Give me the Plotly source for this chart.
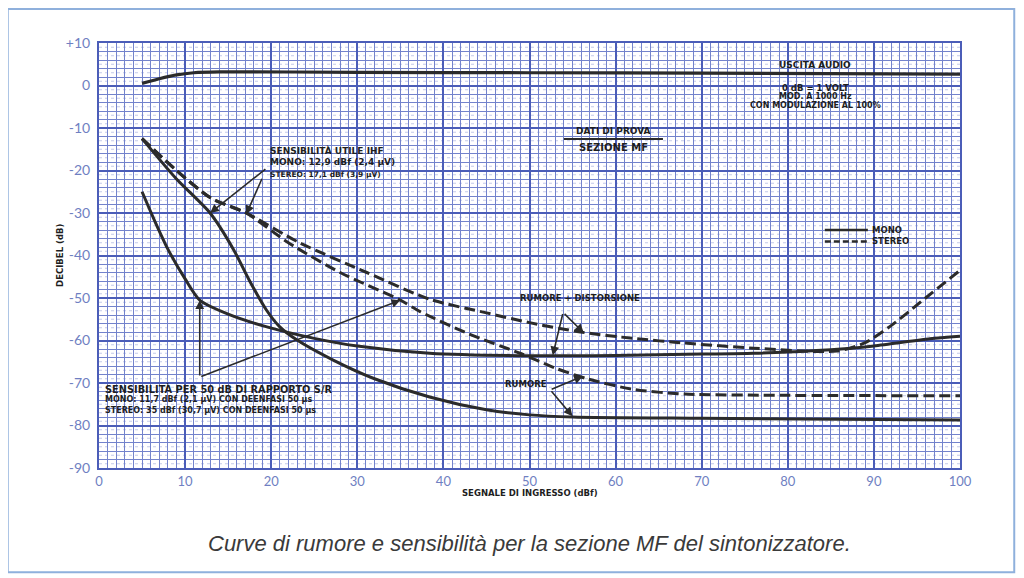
import plotly.graph_objects as go

# ---------------- data ----------------
out_x = [5, 7, 9, 11, 14, 30, 50, 70, 100]
out_y = [0.5, 1.6, 2.5, 3.0, 3.2, 3.1, 3.0, 2.9, 2.7]

mono_a_x = [5, 9, 12.9, 15.6, 17.5, 19.5, 21, 23, 27.2, 32, 38.4, 45, 50, 55, 70, 100]
mono_a_y = [-12.5, -22, -30, -38.5, -46, -53, -56.8, -59.9, -64.6, -69, -73.3, -76.3, -77.5, -78, -78.3, -78.7]

mono_b_x = [5, 6.5, 8, 10, 11.7, 15, 19.5, 25, 30, 38.4, 50, 60, 70, 76, 85, 90, 96.5, 100]
mono_b_y = [-25, -32, -38.5, -45.5, -50.5, -53.8, -56.8, -59.5, -61.3, -63, -63.6, -63.5, -63.2, -63, -62.2, -61.3, -59.6, -59]

stereo_a_x = [5, 9, 13, 17.1, 23.3, 31.1, 38.4, 45, 50, 55.9, 62, 68, 76, 85.7, 89, 92, 96, 100]
stereo_a_y = [-12.5, -20, -26.5, -30, -37, -44, -50.3, -53.5, -55.8, -58, -59.5, -60.6, -61.8, -62.5, -60.5, -56.5, -50, -43.5]

stereo_b_x = [5, 9, 13, 17.1, 22, 28, 35, 37.3, 43, 48.9, 53, 56.7, 62, 68, 80, 100]
stereo_b_y = [-12.5, -20, -26.5, -30, -37, -44, -50.5, -53.2, -58.5, -63, -66.5, -69, -71.5, -72.6, -72.9, -73]

x_ticks = [0, 10, 20, 30, 40, 50, 60, 70, 80, 90, 100]
y_ticks = [10, 0, -10, -20, -30, -40, -50, -60, -70, -80, -90]
y_tick_text = ["+10", "0", "-10", "-20", "-30", "-40", "-50", "-60", "-70", "-80", "-90"]

legend_labels = ["MONO", "STEREO"]

caption = "Curve di rumore e sensibilità per la sezione MF del sintonizzatore."

# ---------------- styling ----------------
INK = "#2b2b2b"
GRID_MAJ = "#4b5db8"
GRID_MIN = "#7383cc"
TICK_COL = "#6f7fc2"
DASH = "11px,5px"
LBL_FAMILY = "DejaVu Sans, Liberation Sans, sans-serif"
LBL_FONT = dict(family=LBL_FAMILY, size=8.5, color="#1e1e1e")

fig = go.Figure()

line_kw = dict(shape="spline", smoothing=0.7)

fig.add_trace(go.Scatter(x=out_x, y=out_y, mode="lines", showlegend=False,
                         line=dict(color=INK, width=3.2, **line_kw)))
fig.add_trace(go.Scatter(x=mono_a_x, y=mono_a_y, mode="lines", showlegend=False,
                         line=dict(color=INK, width=3, **line_kw)))
fig.add_trace(go.Scatter(x=mono_b_x, y=mono_b_y, mode="lines", showlegend=False,
                         line=dict(color=INK, width=3, **line_kw)))
fig.add_trace(go.Scatter(x=stereo_a_x, y=stereo_a_y, mode="lines", showlegend=False,
                         line=dict(color=INK, width=3, dash=DASH, **line_kw)))
fig.add_trace(go.Scatter(x=stereo_b_x, y=stereo_b_y, mode="lines", showlegend=False,
                         line=dict(color=INK, width=3, dash=DASH, **line_kw)))

shapes = []
# dotted 1 dB lines between the solid 2 dB lines
for v in range(-89, 10, 2):
    shapes.append(dict(type="line", xref="paper", x0=0, x1=1, yref="y", y0=v, y1=v,
                       line=dict(color="#9aa6da", width=0.6, dash="dot"), layer="below"))
# rule in the "SEZIONE MF" label
shapes.append(dict(type="line", xref="x", yref="y", x0=54, x1=65.5, y0=-12.6, y1=-12.6,
                   line=dict(color=INK, width=2)))
# legend key samples
shapes.append(dict(type="line", xref="x", yref="y", x0=84.3, x1=89.3, y0=-34.0, y1=-34.0,
                   line=dict(color=INK, width=2.5)))
shapes.append(dict(type="line", xref="x", yref="y", x0=84.3, x1=89.3, y0=-36.7, y1=-36.7,
                   line=dict(color=INK, width=2.5, dash="6px,3px")))
# outer page frame
shapes.append(dict(type="rect", xref="paper", yref="paper", x0=-0.106, x1=1.063, y0=-0.245, y1=1.08,
                   line=dict(color="#8fb0dc", width=2), layer="below"))

annotations = []


def label(x, y, text, xanchor="left", size=8.5):
    f = dict(LBL_FONT)
    f["size"] = size
    annotations.append(dict(x=x, y=y, xref="x", yref="y", text="<b>" + text + "</b>", showarrow=False,
                            xanchor=xanchor, yanchor="middle", align=xanchor if xanchor != "center" else "center",
                            font=f))


label(83.2, 4.8, "USCITA AUDIO", "center", 9)
label(83.2, -0.6, "0 dB = 1 VOLT", "center")
label(83.2, -2.7, "MOD. A 1000 Hz", "center", 8)
label(83.2, -4.7, "CON MODULAZIONE AL 100%", "center", 8)

label(59.8, -10.6, "DATI DI PROVA", "center", 9)
label(59.8, -14.6, "SEZIONE MF", "center", 10)

label(89.6, -34.0, legend_labels[0], "left", 8.5)
label(89.6, -36.7, legend_labels[1], "left", 8.5)

label(19.6, -15.3, "SENSIBILITÀ UTILE IHF", size=9)
label(19.6, -18.1, "MONO: 12,9 dBf (2,4 µV)", size=9)
label(19.6, -21.0, "STEREO: 17,1 dBf (3,9 µV)", size=7.5)

label(55.9, -50, "RUMORE + DISTORSIONE", "center")
label(49.6, -70.2, "RUMORE", "center")

label(0.5, -71.3, "SENSIBILITÀ PER 50 dB DI RAPPORTO S/R", size=9.8)
label(0.5, -73.8, "MONO: 11,7 dBf (2,1 µV) CON DEENFASI 50 µs", size=8)
label(0.5, -76.5, "STEREO: 35 dBf (30,7 µV) CON DEENFASI 50 µs", size=8)


def arrow(hx, hy, tx, ty):
    annotations.append(dict(x=hx, y=hy, ax=tx, ay=ty, xref="x", yref="y", axref="x", ayref="y",
                            text="", showarrow=True, arrowhead=2, arrowsize=1.1, arrowwidth=1.6,
                            arrowcolor=INK))


arrow(12.9, -30.0, 19.5, -19.4)
arrow(17.1, -30.3, 19.0, -21.6)
arrow(11.7, -50.5, 11.7, -68.6)
arrow(35.0, -50.5, 11.7, -68.6)
arrow(52.7, -63.5, 53.9, -53.4)
arrow(56.3, -58.2, 53.9, -53.4)
arrow(56.2, -68.4, 52.4, -71.6)
arrow(55.0, -77.8, 52.4, -71.6)

# axis titles and caption
annotations.append(dict(x=-0.046, y=0.5, xref="paper", yref="paper", text="<b>DECIBEL (dB)</b>",
                        textangle=-90, showarrow=False, font=LBL_FONT, xanchor="center", yanchor="middle"))
annotations.append(dict(x=0.5, y=-0.058, xref="paper", yref="paper", text="<b>SEGNALE DI INGRESSO (dBf)</b>",
                        showarrow=False, font=LBL_FONT, xanchor="center", yanchor="middle"))
annotations.append(dict(x=0.5, y=-0.177, xref="paper", yref="paper", text="<i>" + caption + "</i>",
                        showarrow=False, xanchor="center", yanchor="middle",
                        font=dict(family="Liberation Sans, Arial, sans-serif", size=22, color="#3a3a3a")))

# the page body adds an 8 px offset; margins compensate so the plot area sits where the reference has it
fig.update_layout(
    width=1024, height=578,
    margin=dict(l=91, r=72, t=35, b=118),
    paper_bgcolor="white", plot_bgcolor="white",
    shapes=shapes, annotations=annotations,
    showlegend=False,
    xaxis=dict(range=[0, 100], tickvals=x_ticks, ticktext=[str(v) for v in x_ticks],
               showgrid=True, gridcolor=GRID_MAJ, gridwidth=1.6,
               minor=dict(dtick=1, showgrid=True, gridcolor=GRID_MIN, gridwidth=0.8),
               showline=True, linecolor=GRID_MAJ, linewidth=2, mirror=True,
               zeroline=False, ticks="", tickfont=dict(family="Lato, sans-serif", size=13, color=TICK_COL)),
    yaxis=dict(range=[-90, 10], tickvals=y_ticks, ticktext=y_tick_text,
               showgrid=True, gridcolor=GRID_MAJ, gridwidth=1.6,
               minor=dict(dtick=2, tick0=0, showgrid=True, gridcolor=GRID_MIN, gridwidth=0.8),
               showline=True, linecolor=GRID_MAJ, linewidth=2, mirror=True,
               zeroline=False, ticks="", ticklabelstandoff=4,
               tickfont=dict(family="Lato, sans-serif", size=14, color=TICK_COL)),
)

fig.write_html("out.html")
